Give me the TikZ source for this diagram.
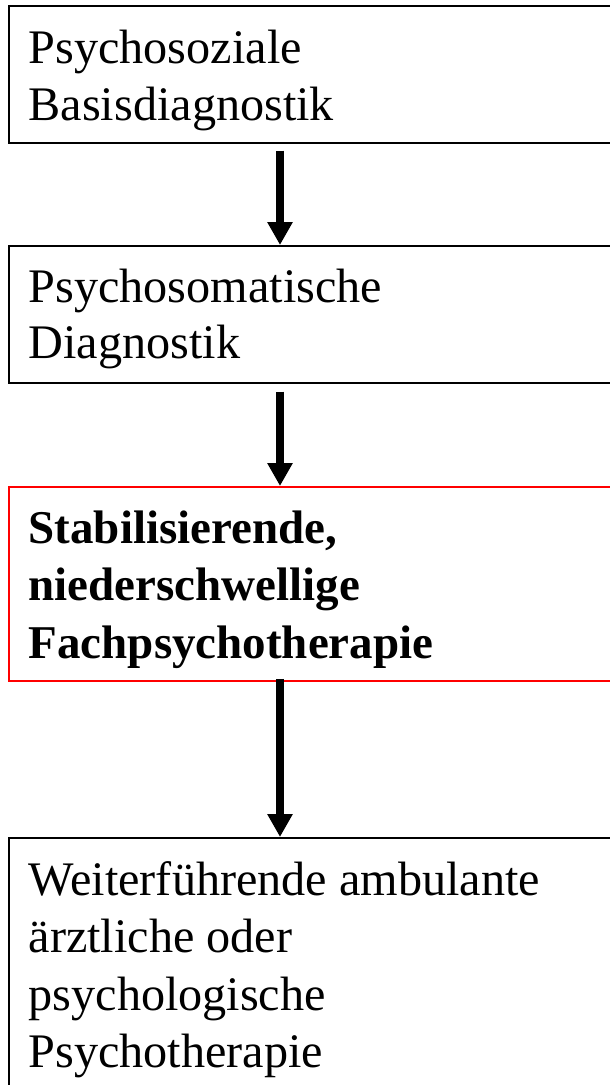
\documentclass[tikz,border=0pt]{standalone}
\usepackage{fontspec}
\setmainfont{Liberation Serif}
\usetikzlibrary{arrows.meta}
\tikzset{
  box/.style={draw=black, line width=1.6pt, rectangle, anchor=north west, inner sep=0pt, minimum width=620pt},
  redbox/.style={box, draw=red, line width=1.8pt},
  txt/.style={anchor=base west, inner sep=0pt, font=\fontsize{48.2pt}{57.5pt}\selectfont},
  btxt/.style={txt, font=\fontsize{47pt}{57.5pt}\selectfont\bfseries},
  arr/.style={line width=8pt, -{Triangle[width=24pt,length=23pt]}, shorten <=0pt},
}
\begin{document}
\begin{tikzpicture}[x=1pt,y=-1pt]
\useasboundingbox (0,0) rectangle (610,1085);
\clip (0,0) rectangle (610,1085);
\coordinate (ax) at (280,0);
% boxes
\node[box, minimum height=137pt] (b1) at (8,5) {};
\node[box, minimum height=137pt] (b2) at (8,245) {};
\node[redbox, minimum height=194pt] (b3) at (8,486) {};
\node[box, minimum height=280pt] (b4) at (8,837) {};
% texts
\node[txt] (t11) at (28.5,63) {Psychosoziale};
\node[txt] (t12) at (28.5,120) {Basisdiagnostik};
\node[txt] (t21) at (28.5,302) {Psychosomatische};
\node[txt] (t22) at (28.5,358) {Diagnostik};
\node[btxt] (t31) at (28.5,543) {Stabilisierende,};
\node[btxt] (t32) at (28.5,600) {niederschwellige};
\node[btxt] (t33) at (28.5,658) {Fachpsychotherapie};
\node[txt] (t41) at (28.5,895) {Weiterführende ambulante};
\node[txt] (t42) at (28.5,952) {ärztliche oder};
\node[txt] (t43) at (28.5,1010) {psychologische};
\node[txt] (t44) at (28.5,1067) {Psychotherapie};
% arrows
\draw[arr] ([yshift=-7pt]b1.south -| ax) -- (b2.north -| ax);
\draw[arr] ([yshift=-8pt]b2.south -| ax) -- (b3.north -| ax);
\draw[arr] ([yshift=3pt]b3.south -| ax) -- (b4.north -| ax);
\end{tikzpicture}
\end{document}
